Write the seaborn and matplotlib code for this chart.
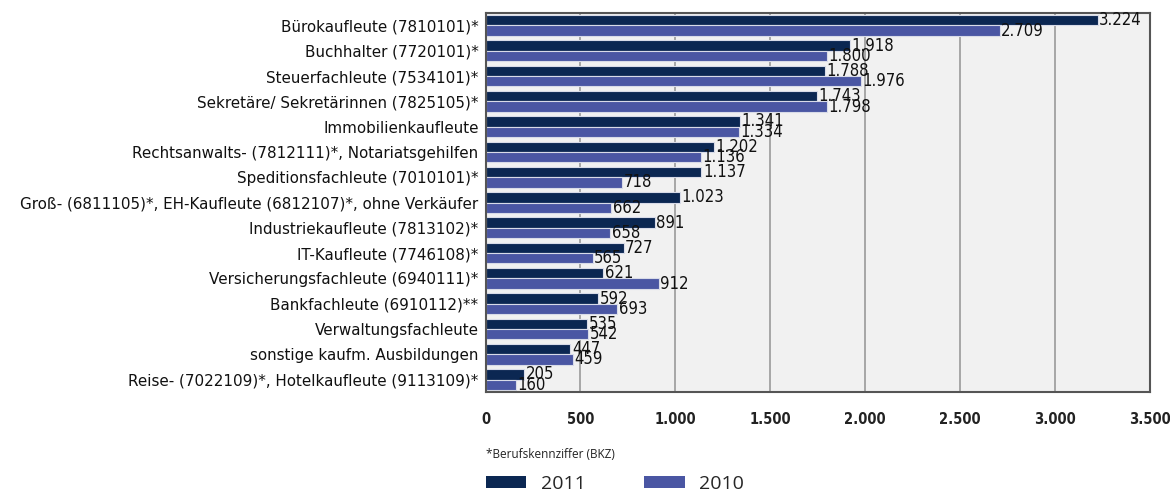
import pandas as pd
import matplotlib.pyplot as plt
import seaborn as sns
from matplotlib.patches import Patch

berufe = [
    'Bürokaufleute (7810101)*',
    'Buchhalter (7720101)*',
    'Steuerfachleute (7534101)*',
    'Sekretäre/ Sekretärinnen (7825105)*',
    'Immobilienkaufleute',
    'Rechtsanwalts- (7812111)*, Notariatsgehilfen',
    'Speditionsfachleute (7010101)*',
    'Groß- (6811105)*, EH-Kaufleute (6812107)*, ohne Verkäufer',
    'Industriekaufleute (7813102)*',
    'IT-Kaufleute (7746108)*',
    'Versicherungsfachleute (6940111)*',
    'Bankfachleute (6910112)**',
    'Verwaltungsfachleute',
    'sonstige kaufm. Ausbildungen',
    'Reise- (7022109)*, Hotelkaufleute (9113109)*',
]
werte_2011 = [3224, 1918, 1788, 1743, 1341, 1202, 1137, 1023, 891, 727, 621, 592, 535, 447, 205]
werte_2010 = [2709, 1800, 1976, 1798, 1334, 1136, 718, 662, 658, 565, 912, 693, 542, 459, 160]
jahre = ['2011', '2010']
farben = ['#0b2752', '#4a56a3']
x_ticks = [0, 500, 1000, 1500, 2000, 2500, 3000, 3500]

# Daten ins lange Format bringen
df = pd.DataFrame({
    'Beruf': berufe * 2,
    'Anzahl': werte_2011 + werte_2010,
    'Jahr': ['2011'] * len(berufe) + ['2010'] * len(berufe),
})

def punkt(v):
    # deutsches Tausendertrennzeichen
    return f'{v:,}'.replace(',', '.')

sns.set_style('white')
plt.rcParams['font.family'] = ['DejaVu Sans']

fig = plt.figure(figsize=(11.7, 4.94), dpi=100)
ax = fig.add_axes([0.415, 0.206, 0.568, 0.768])

sns.barplot(data=df, x='Anzahl', y='Beruf', hue='Jahr', hue_order=jahre,
            palette=farben, orient='h', width=0.82, ax=ax, legend=False,
            edgecolor='#d8dbe8', linewidth=0.8, saturation=1)

ax.set_facecolor('#f1f1f1')
ax.set_xlim(0, 3500)
ax.set_xticks(x_ticks)
ax.set_xticklabels([punkt(t) for t in x_ticks], fontsize=10.5,
                   fontstretch='condensed', fontweight='bold')
ax.tick_params(axis='x', length=0, pad=14, colors='#222222')
ax.tick_params(axis='y', length=0, pad=5, labelsize=10.9, colors='#111111')
ax.set_xlabel('')
ax.set_ylabel('')
ax.grid(axis='x', color='#9a9a9a', linewidth=1.2)
ax.set_axisbelow(True)
for s in ax.spines.values():
    s.set_color('#555555')
    s.set_linewidth(1.5)

for cont in ax.containers:
    ax.bar_label(cont, labels=[punkt(int(b.get_width())) for b in cont],
                 padding=1, fontsize=12, color='#111111',
                 fontstretch='condensed')

fig.text(0.415, 0.079, '*Berufskennziffer (BKZ)', fontsize=8.5, va='center',
         color='#222222', family=['Open Sans', 'DejaVu Sans'])

handles = [Patch(facecolor=f, edgecolor='none') for f in farben]
fig.legend(handles, jahre, loc='center left', bbox_to_anchor=(0.415, 0.02),
           ncol=2, frameon=False, handlelength=2.1, handleheight=0.55,
           handletextpad=0.75, columnspacing=3.0, borderpad=0, borderaxespad=0,
           prop={'family': ['Open Sans', 'DejaVu Sans'], 'size': 14})

fig.savefig('out.png', dpi=100)
